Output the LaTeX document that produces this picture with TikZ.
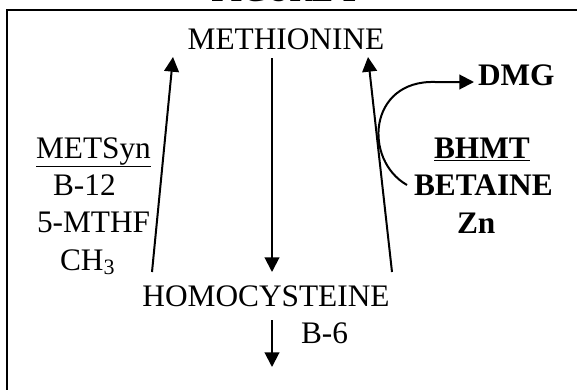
\documentclass[tikz,border=0pt]{standalone}
\usepackage{fontspec}
\setmainfont{Liberation Serif}
\usetikzlibrary{arrows.meta}
\newcommand{\fsz}       {\fontsize{23.5}{28}\selectfont}
\newcommand{\ul}[1]     {\underline{#1}}
\begin{document}
\begin{tikzpicture}[x=0.75pt,y=-0.75pt,line width=1.5pt,
   >={Triangle[width=11pt,length=11pt]},
   every node/.style={font=\fsz,inner sep=0pt}]
   \useasboundingbox (0,0) rectangle (577,389);
   \draw[line width=2pt] (7,420) -- (7,10) -- (600,10);
   \draw (284,2) node[anchor=base] (title) {\textbf{FIGURE 1}};
   \draw (286,49) node[anchor=base] (meth) {METHIONINE};
   \draw (266,306) node[anchor=base] (homo) {HOMOCYSTEINE};
   \draw (300,343) node[anchor=base west] (bsix) {B-6};
   \draw (35,158) node[anchor=base west] (metsyn) {\ul{METSyn}};
   \draw (52,195) node[anchor=base west] (btwelve) {B-12};
   \draw (36,232) node[anchor=base west] (mthf) {5-MTHF};
   \draw (59,270) node[anchor=base west] (methyl) {CH\textsubscript{3}};
   \draw (477,85) node[anchor=base west] (dmg) {\textbf{DMG}};
   \draw (433,158) node[anchor=base west] (bhmt) {\textbf{\ul{BHMT}}};
   \draw (413,195) node[anchor=base west] (betaine) {\textbf{BETAINE}};
   \draw (456,233) node[anchor=base west] (zn) {\textbf{Zn}};
   % arrow ends
   \coordinate (lfoot) at (152,272);
   \coordinate (ltip)  at (173,57);
   \coordinate (mtop)  at (272,58);
   \coordinate (mtip)  at (272,272);
   \coordinate (rfoot) at (392,272);
   \coordinate (rtip)  at (368,57);
   \coordinate (dtop)  at (272,320);
   \coordinate (dtip)  at (272,367);
   \coordinate (cfoot) at (407,185);
   \coordinate (ctip)  at (474,82);
   \draw[->] (lfoot) -- (ltip);
   \draw[->] (mtop) -- (mtip);
   \draw[->] (rfoot) -- (rtip);
   \draw[->] (dtop) -- (dtip);
   \draw[->] (cfoot) .. controls (363,160) and (368,80) .. (435,82) -- (ctip);
\end{tikzpicture}
\end{document}
